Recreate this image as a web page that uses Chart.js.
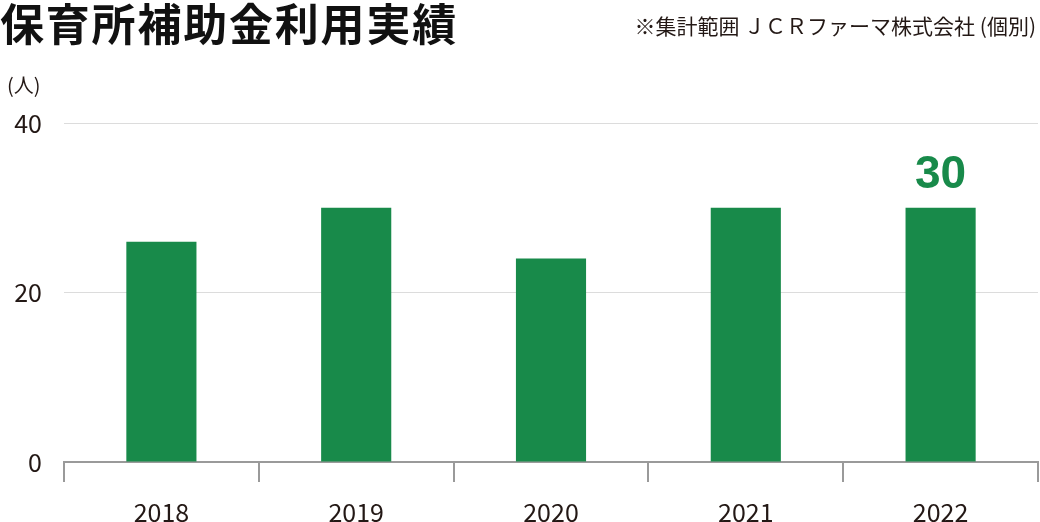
<!DOCTYPE html>
<html>
<head>
<meta charset="utf-8">
<script src="https://cdn.jsdelivr.net/npm/chart.js@4"></script>
<style>
html,body{margin:0;padding:0;background:#fff;}
#wrap{position:relative;width:1040px;height:522px;overflow:hidden;}
#title{position:absolute;left:0px;top:-10px;font-family:"Noto Sans CJK JP";font-weight:700;font-size:44px;color:#111;white-space:nowrap;letter-spacing:1.8px;}
#note{position:absolute;right:4px;top:10px;font-family:"Noto Sans CJK JP";font-size:21px;color:#231815;white-space:nowrap;}
#unit{position:absolute;left:7px;top:70px;font-family:"Noto Sans CJK JP";font-size:20px;color:#231815;}
#c{position:absolute;left:0;top:0;}
</style>
</head>
<body>
<div id="wrap">
<canvas id="c" width="1040" height="522"></canvas>
<div id="title">保育所補助金利用実績</div>
<div id="note">※集計範囲 ＪＣＲファーマ株式会社 (個別)</div>
<div id="unit">(人)</div>
</div>
<script>
const categories = ["2018", "2019", "2020", "2021", "2022"];
const users = [26, 30, 24, 30, 30];
const yTicks = [0, 20, 40];

const green = "#188a4a";
const textColor = "#231815";

const labelPlugin = {
  id: "lastLabel",
  afterDatasetsDraw(chart) {
    const meta = chart.getDatasetMeta(0);
    const i = users.length - 1;
    const el = meta.data[i];
    const ctx = chart.ctx;
    ctx.save();
    ctx.fillStyle = green;
    ctx.font = "bold 46px 'Liberation Sans', Arial, sans-serif";
    ctx.textAlign = "center";
    ctx.textBaseline = "alphabetic";
    ctx.fillText(String(users[i]), el.x, el.y - 20);
    ctx.restore();
  }
};

new Chart(document.getElementById("c"), {
  type: "bar",
  data: {
    labels: categories,
    datasets: [{
      data: users,
      backgroundColor: green,
      barPercentage: 0.36,
      categoryPercentage: 1.0
    }]
  },
  options: {
    responsive: false,
    animation: false,
    devicePixelRatio: 1,
    layout: { padding: { top: 123, right: 2, left: 0, bottom: 0 } },
    plugins: { legend: { display: false }, tooltip: { enabled: false } },
    scales: {
      x: {
        grid: { display: true, drawOnChartArea: false, drawTicks: true, tickLength: 20, color: "#9a9a9a", lineWidth: 2, offset: true },
        border: { display: true, color: "#9a9a9a", width: 2 },
        ticks: { color: textColor, font: { family: "Noto Sans CJK JP", size: 25 }, padding: 15 },
        afterFit(s) { s.height = 60; }
      },
      y: {
        min: 0, max: 40,
        afterBuildTicks(s) { s.ticks = yTicks.map(v => ({ value: v })); },
        grid: { color: "#dcdcdc", lineWidth: 1, drawTicks: false },
        border: { display: false },
        ticks: { color: textColor, font: { family: "Noto Sans CJK JP", size: 25 }, padding: 22 },
        afterFit(s) { s.width = 64; }
      }
    }
  },
  plugins: [labelPlugin]
});
</script>
</body>
</html>
